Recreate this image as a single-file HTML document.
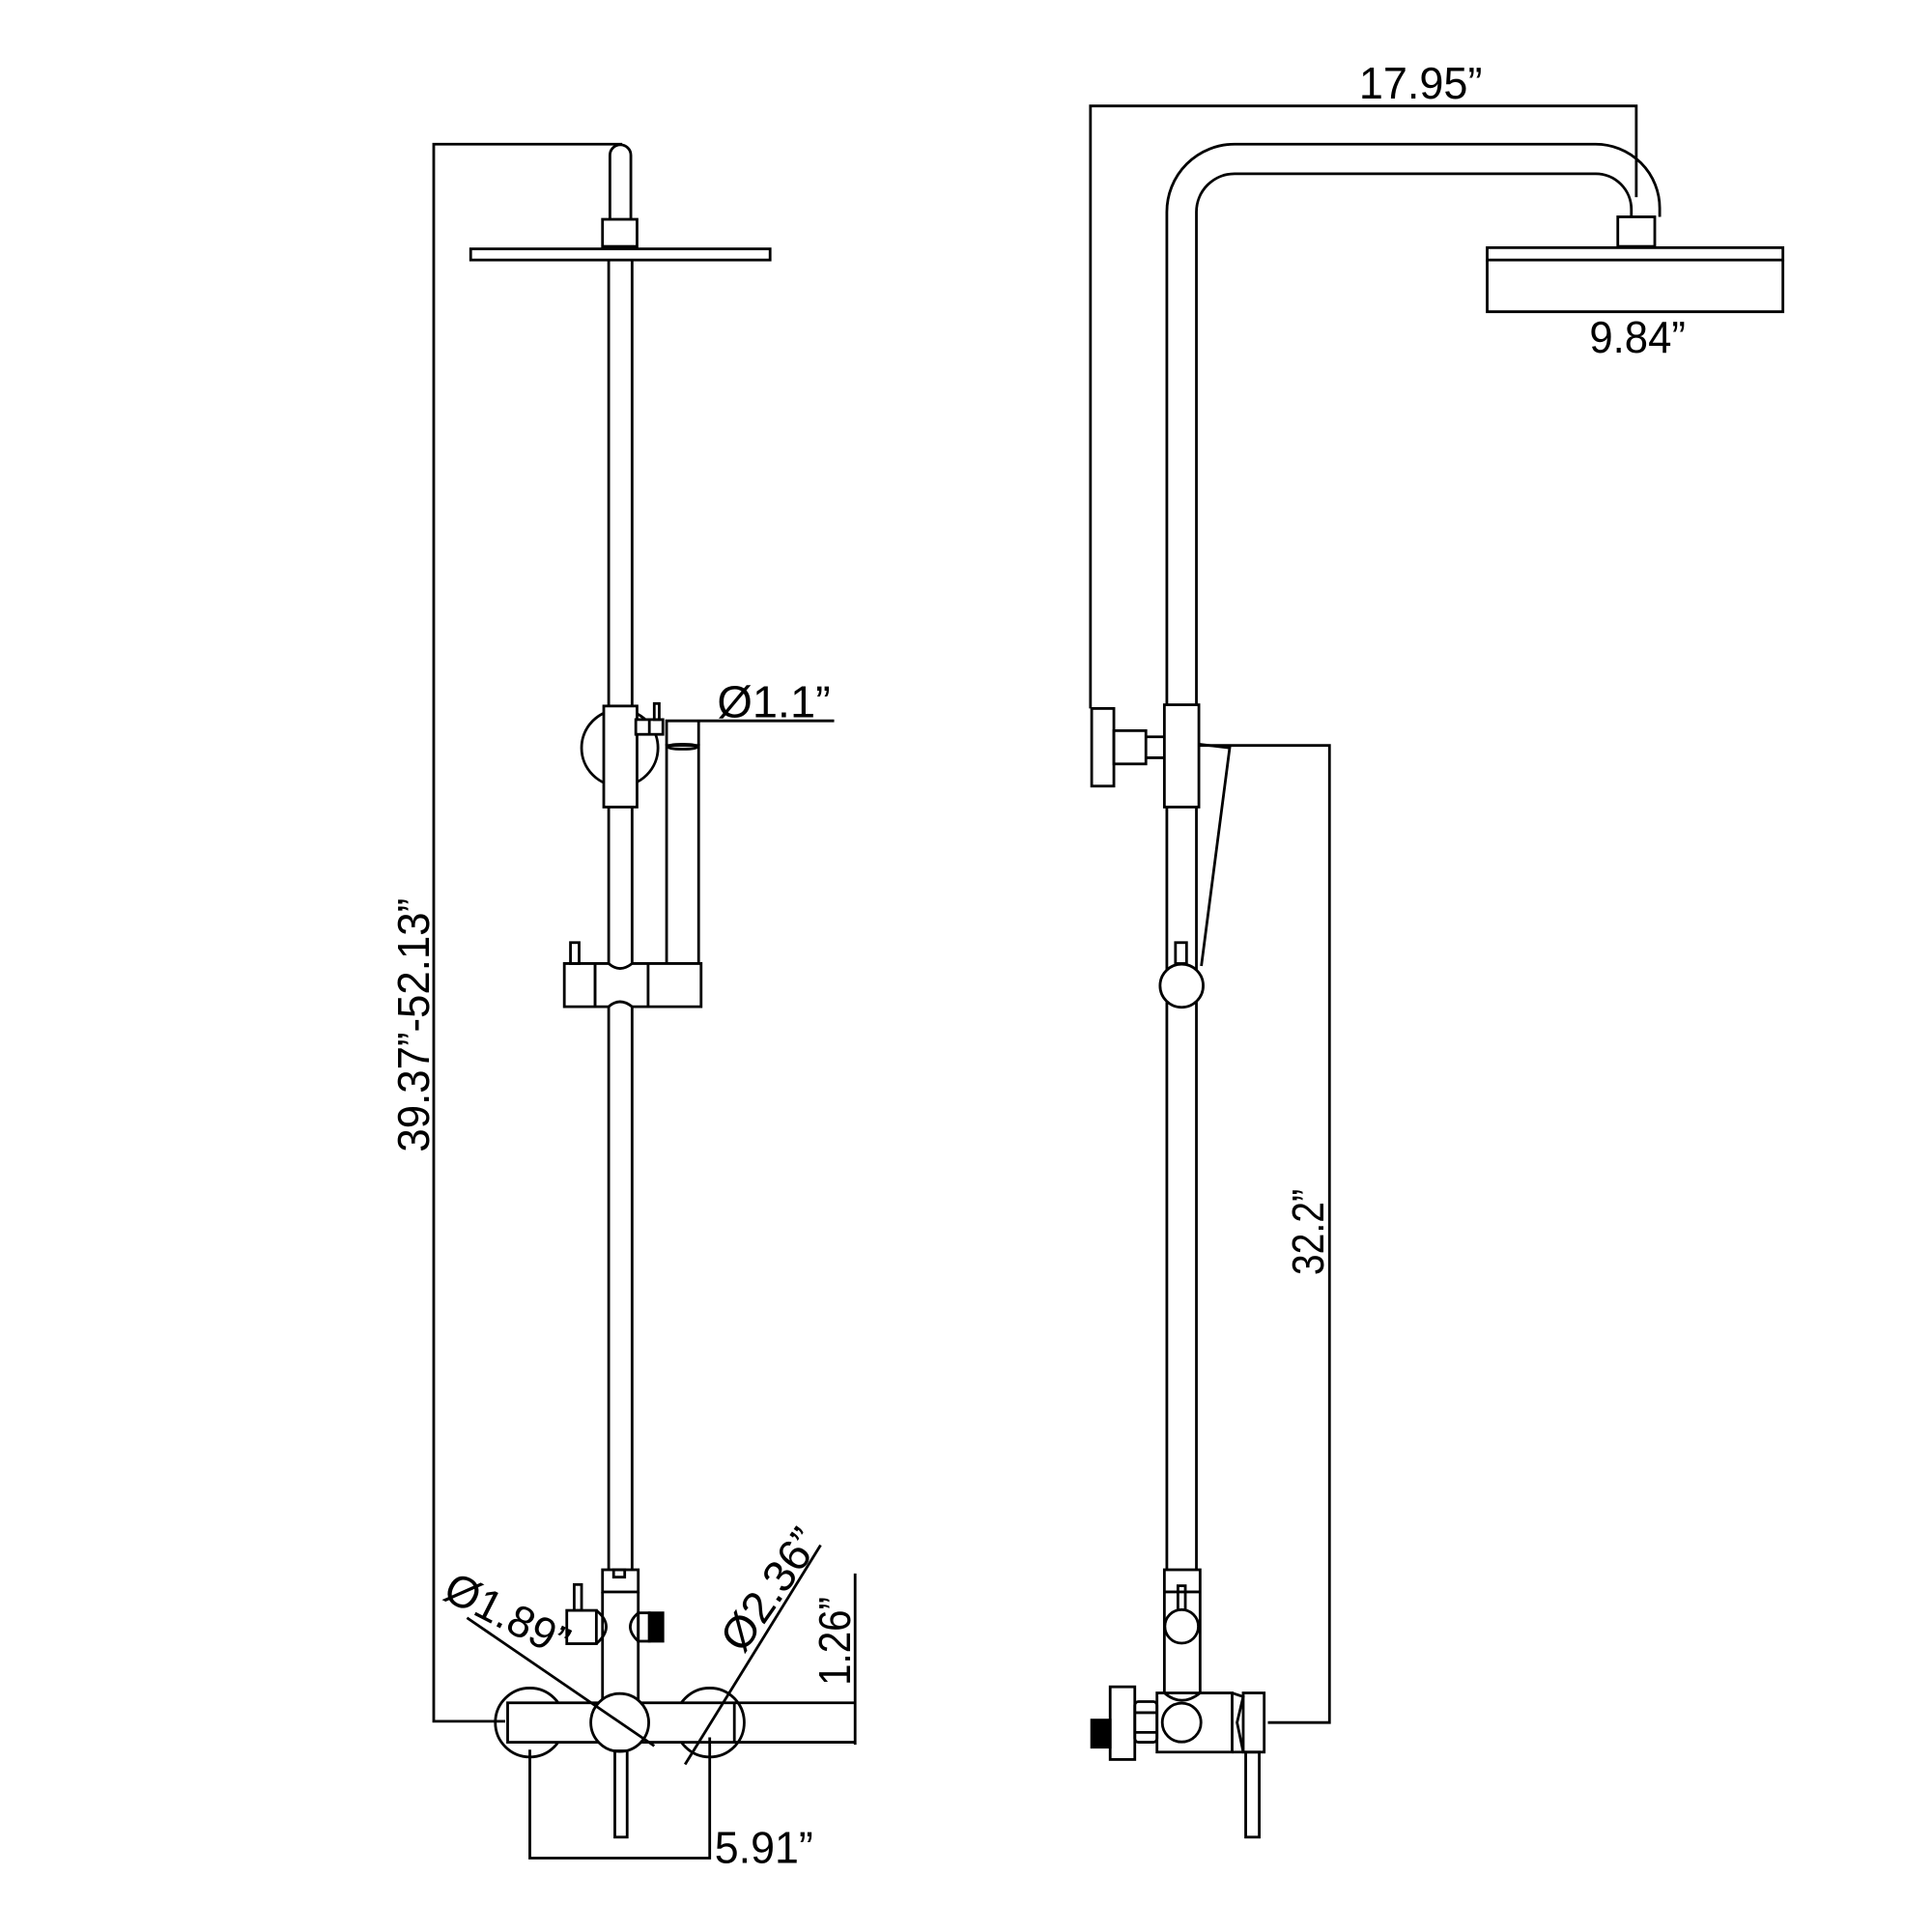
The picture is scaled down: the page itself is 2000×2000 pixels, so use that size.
<!DOCTYPE html>
<html><head><meta charset="utf-8"><style>html,body{margin:0;padding:0;background:#fff}svg{display:block}</style></head>
<body>
<svg width="2000" height="2000" viewBox="0 0 1568 1568" xmlns="http://www.w3.org/2000/svg">
<g fill="none" stroke="#000" stroke-width="2.2" stroke-linejoin="miter">
<!-- LEFT VIEW -->
<polyline points="505,117 352,117 352,1397 410,1397"/>
<path d="M495,178 L495,126 A8.5,8.5 0 0 1 512,126 L512,178"/>
<rect x="489" y="178" width="28" height="22" fill="#fff"/>
<rect x="382" y="202" width="243" height="9"/>
<line x1="494" y1="211" x2="494" y2="573"/><line x1="513" y1="211" x2="513" y2="573"/>
<circle cx="503" cy="607" r="31"/>
<rect x="490" y="573" width="27" height="82" fill="#fff"/>
<rect x="516" y="584" width="22" height="12" fill="#fff"/>
<line x1="527" y1="584" x2="527" y2="596"/>
<rect x="531" y="571" width="4" height="13"/>
<polyline points="541,605 541,585 677,585"/>
<line x1="567" y1="585" x2="567" y2="605"/>
<rect x="541" y="605" width="26" height="179"/>
<ellipse cx="554" cy="606" rx="12" ry="2"/>
<line x1="494" y1="655" x2="494" y2="1274"/><line x1="513" y1="655" x2="513" y2="1274"/>
<path d="M458,782 H483 V817 H458 Z" fill="#fff"/>
<path d="M483,782 H494 Q503,790 513,782 H526 V817 H513 Q503,809 494,817 H483 Z" fill="#fff"/>
<path d="M526,782 H569 V817 H526 Z" fill="#fff"/>
<rect x="463" y="765" width="7" height="17"/>
<rect x="489" y="1274" width="29" height="18"/>
<rect x="498" y="1274" width="9" height="6"/>
<line x1="489" y1="1292" x2="489" y2="1382"/><line x1="518" y1="1292" x2="518" y2="1382"/>
<rect x="460" y="1307" width="24" height="27"/>
<path d="M484,1307 Q500,1320 484,1334"/>
<rect x="466" y="1286" width="6" height="21"/>
<path d="M518,1309 Q505,1320 518,1332"/>
<rect x="518" y="1309" width="9" height="23"/>
<rect x="527" y="1309" width="11" height="23" fill="#000"/>
<circle cx="430" cy="1398" r="28"/>
<circle cx="576" cy="1398" r="28"/>
<rect x="412" y="1382" width="184" height="32" fill="#fff"/>
<circle cx="503" cy="1398" r="23.5" fill="#fff"/>
<rect x="499" y="1421" width="10" height="70"/>
<polyline points="430,1420 430,1508 576,1508 576,1410"/>
<line x1="596" y1="1382" x2="694" y2="1382"/><line x1="596" y1="1414" x2="694" y2="1414"/>
<line x1="694" y1="1277" x2="694" y2="1416"/>
<line x1="379" y1="1313" x2="531" y2="1417"/>
<line x1="556" y1="1432" x2="666" y2="1254"/>

<!-- RIGHT VIEW -->
<polyline points="885,575 885,86 1328,86 1328,160"/>
<path d="M947,572 L947,172 A55,55 0 0 1 1002,117 L1295,117 A52,52 0 0 1 1347,169 L1347,176"/>
<path d="M971,572 L971,172 A31,31 0 0 1 1002,141 L1295,141 A29,29 0 0 1 1324,170 L1324,176"/>
<rect x="1313" y="176" width="30" height="24"/>
<rect x="1207" y="201" width="240" height="10"/>
<polyline points="1207,211 1207,253 1447,253 1447,211"/>
<rect x="945" y="572" width="28" height="83"/>
<rect x="886" y="575" width="18" height="63"/>
<rect x="904" y="593" width="26" height="27"/>
<path d="M930,598 H945 M930,615 H945"/>
<polyline points="973,605 1079,605 1079,1398 1029,1398"/>
<polyline points="973,604 998,607 975,784"/>
<line x1="947" y1="655" x2="947" y2="1274"/><line x1="971" y1="655" x2="971" y2="1274"/>
<rect x="954" y="765" width="9" height="17"/>
<circle cx="959" cy="800" r="17.5" fill="#fff"/>
<rect x="945" y="1274" width="29" height="100"/>
<line x1="945" y1="1292" x2="974" y2="1292"/>
<rect x="956" y="1287" width="6" height="20"/>
<circle cx="959" cy="1320" r="13.6" fill="#fff"/>
<path d="M939,1374 H945 Q959,1386 974,1374 H1000 V1422 H939 Z"/>
<circle cx="959" cy="1398" r="15.7"/>
<path d="M1000,1374 L1009,1377 L1004,1398 L1009,1422 L1000,1422"/>
<rect x="1009" y="1374" width="17" height="48"/>
<rect x="1011" y="1422" width="11" height="69"/>
<rect x="921" y="1381" width="18" height="33" rx="3"/>
<line x1="921" y1="1390" x2="939" y2="1390"/><line x1="921" y1="1406" x2="939" y2="1406"/>
<rect x="901" y="1369" width="20" height="59"/>
<rect x="886" y="1396" width="15" height="22" fill="#000"/>
</g>
<g font-family="Liberation Sans, Arial, sans-serif" font-size="36" fill="#000">
<text x="1103" y="80" textLength="100" lengthAdjust="spacingAndGlyphs">17.95”</text>
<text x="1290" y="286" textLength="78" lengthAdjust="spacingAndGlyphs">9.84”</text>
<text x="582" y="582" textLength="92" lengthAdjust="spacingAndGlyphs">Ø1.1”</text>
<text x="580" y="1512" textLength="80" lengthAdjust="spacingAndGlyphs">5.91”</text>
<text transform="translate(348,935) rotate(-90)" textLength="206" lengthAdjust="spacingAndGlyphs">39.37”-52.13”</text>
<text transform="translate(1074,1035) rotate(-90)" textLength="70" lengthAdjust="spacingAndGlyphs">32.2”</text>
<text transform="translate(690,1368) rotate(-90)" textLength="72" lengthAdjust="spacingAndGlyphs">1.26”</text>
<text transform="translate(358,1297) rotate(27)" textLength="108" lengthAdjust="spacingAndGlyphs">Ø1.89”</text>
<text transform="translate(603,1343) rotate(-55)" textLength="112" lengthAdjust="spacingAndGlyphs">Ø2.36”</text>
</g>
</svg>
</body></html>
